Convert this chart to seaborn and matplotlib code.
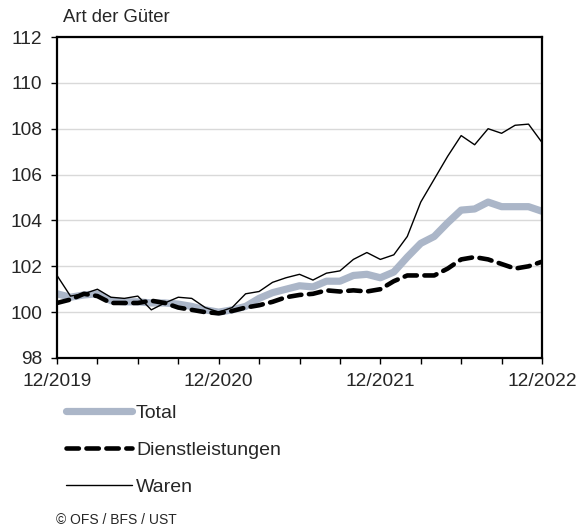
import matplotlib
matplotlib.use("Agg")
import matplotlib.pyplot as plt
import seaborn as sns
import pandas as pd
import numpy as np

months = pd.date_range("2019-12-01", "2022-12-01", freq="MS")
total = [100.8, 100.65, 100.75, 100.8, 100.5, 100.45, 100.45, 100.4, 100.4, 100.35,
         100.25, 100.1, 100.0, 100.1, 100.25, 100.6, 100.85, 101.0, 101.15, 101.1,
         101.35, 101.35, 101.6, 101.65, 101.5, 101.75, 102.4, 103.0, 103.3, 103.9,
         104.45, 104.5, 104.8, 104.6, 104.6, 104.6, 104.4]
dienst = [100.4, 100.55, 100.8, 100.7, 100.4, 100.4, 100.4, 100.5, 100.4, 100.2,
          100.1, 100.0, 99.95, 100.05, 100.2, 100.3, 100.45, 100.65, 100.75, 100.8,
          100.95, 100.9, 100.95, 100.9, 101.0, 101.35, 101.6, 101.6, 101.6, 101.9,
          102.3, 102.4, 102.3, 102.1, 101.9, 102.0, 102.2]
waren = [101.6, 100.7, 100.8, 101.0, 100.65, 100.6, 100.7, 100.1, 100.4, 100.65,
         100.6, 100.2, 100.0, 100.2, 100.8, 100.9, 101.3, 101.5, 101.65, 101.4,
         101.7, 101.8, 102.3, 102.6, 102.3, 102.5, 103.3, 104.8, 105.8, 106.8,
         107.7, 107.3, 108.0, 107.8, 108.15, 108.2, 107.4]
x_labels = ["12/2019", "12/2020", "12/2021", "12/2022"]

sns.set_theme(style="white")
plt.rcParams["font.family"] = ["Liberation Sans", "DejaVu Sans"]

df = pd.DataFrame({"i": np.arange(len(months)), "Total": total,
                   "Dienstleistungen": dienst, "Waren": waren})

fig = plt.figure(figsize=(5.79, 5.32), dpi=100)
ax = fig.add_axes([57/579, 1-358/532, (542-57)/579, (358-37)/532])

for v in range(98, 113, 2):
    ax.axhline(v, color="#d9d9d9", lw=1.0, zorder=0)

sns.lineplot(data=df, x="i", y="Total", ax=ax, color="#abb6c8", lw=5.2,
             label="Total", solid_capstyle="round")
sns.lineplot(data=df, x="i", y="Dienstleistungen", ax=ax, color="black", lw=3.3,
             label="Dienstleistungen", linestyle=(0, (2.7, 1.65)), dash_capstyle="round")
sns.lineplot(data=df, x="i", y="Waren", ax=ax, color="black", lw=1.0, label="Waren")

ax.set_xlim(0, 36)
ax.set_ylim(98, 112)
ax.set_yticks(range(98, 113, 2))
ax.set_xticks(range(0, 37, 3))
ax.set_xticklabels([x_labels[k // 12] if k % 12 == 0 else "" for k in range(0, 37, 3)])
ax.set_xlabel("")
ax.set_ylabel("")
for s in ax.spines.values():
    s.set_visible(True)
    s.set_color("black")
    s.set_linewidth(1.6)
ax.tick_params(axis="both", which="both", direction="out", length=4, width=1.0,
               color="black", labelsize=13.8, left=True, bottom=True)
ax.tick_params(axis="y", pad=6.5)
ax.tick_params(axis="x", pad=7)

ax.text(63/579, 1-18/532, "Art der Güter", transform=fig.transFigure,
        fontsize=13.3, va="center", ha="left")

leg = ax.legend(loc="upper left", bbox_to_anchor=(66/579, 1-404/532),
                bbox_transform=fig.transFigure, frameon=False, fontsize=14,
                handlelength=3.4, handletextpad=0.2, labelspacing=1.0,
                borderaxespad=0, borderpad=0)

fig.text(56/579, 1-520/532, "© OFS / BFS / UST", fontsize=10, va="center", ha="left")

fig.savefig("out.png", dpi=100)
